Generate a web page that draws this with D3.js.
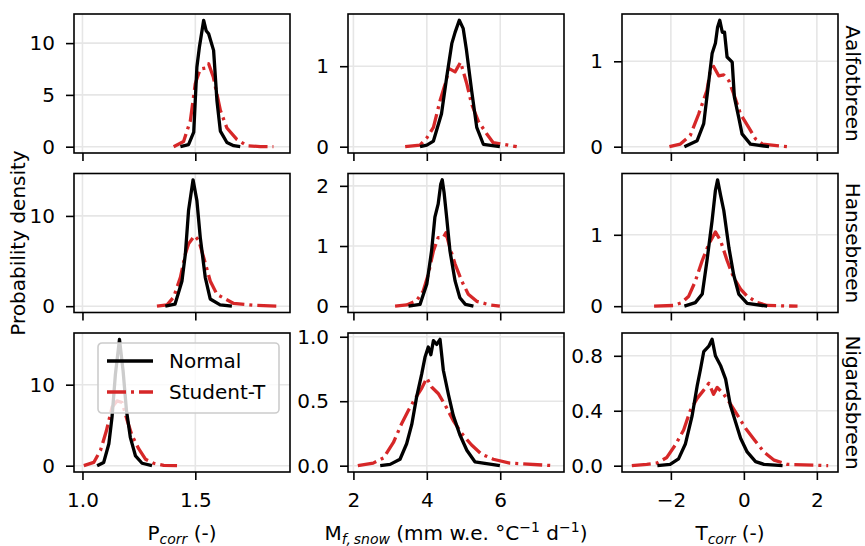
<!DOCTYPE html>
<html>
<head>
<meta charset="utf-8">
<script src="https://cdn.jsdelivr.net/npm/d3@7"></script>
<style>
  body { margin: 0; background: #fff; }
  svg text { font-family: "DejaVu Sans", sans-serif; fill: #000; }
</style>
</head>
<body>
<svg id="chart" width="865" height="546"></svg>
<script>
// glaciers (rows) and parameters (columns)
var glaciers = ['Aalfotbreen', 'Hansebreen', 'Nigardsbreen'];
var seriesNames = ['Normal', 'Student-T'];

// [value, density]
var aalPcorrNormal = [[1.434,0],[1.47,0.2],[1.493,1.4],[1.507,7.7],[1.518,9.6],[1.537,12.2],[1.548,11.2],[1.559,10.9],[1.581,9.3],[1.596,4.4],[1.611,1.5],[1.64,0.4],[1.67,0.1],[1.699,0]];
var aalPcorrStudent = [[1.404,0],[1.448,0.5],[1.478,2.5],[1.5,6.1],[1.522,7.5],[1.545,7.6],[1.559,8.0],[1.58,6.7],[1.611,3.5],[1.64,1.8],[1.684,0.7],[1.728,0.1],[1.788,0],[1.846,0]];
var aalMfNormal = [[3.815,0],[4.0,0.02],[4.18,0.07],[4.40,0.41],[4.54,0.86],[4.68,1.28],[4.77,1.42],[4.885,1.57],[4.99,1.47],[5.08,1.2],[5.22,0.7],[5.36,0.24],[5.54,0.03],[5.99,0]];
var aalMfStudent = [[3.41,0],[3.815,0.02],[4.0,0.11],[4.18,0.24],[4.36,0.57],[4.50,0.78],[4.61,0.97],[4.77,0.93],[4.92,1.05],[5.09,0.78],[5.22,0.53],[5.40,0.32],[5.63,0.16],[5.81,0.05],[6.45,0]];
var aalTcorrNormal = [[-1.63,0],[-1.28,0.07],[-1.10,0.27],[-0.96,0.77],[-0.87,1.09],[-0.78,1.21],[-0.72,1.40],[-0.66,1.48],[-0.59,1.34],[-0.53,1.34],[-0.46,1.05],[-0.32,0.99],[-0.26,0.58],[-0.14,0.34],[-0.05,0.15],[0.18,0.03],[0.69,0]];
var aalTcorrStudent = [[-2.04,0],[-1.74,0.03],[-1.47,0.13],[-1.24,0.38],[-1.01,0.66],[-0.92,0.89],[-0.83,0.94],[-0.69,0.83],[-0.55,0.84],[-0.41,0.77],[-0.28,0.62],[-0.09,0.38],[0.14,0.22],[0.32,0.09],[0.51,0.03],[1.19,0]];

var hanPcorrNormal = [[1.367,0],[1.41,0.22],[1.441,2.8],[1.456,5.8],[1.47,10.6],[1.49,14.0],[1.507,11.7],[1.522,7.6],[1.544,3.2],[1.566,0.8],[1.61,0.15],[1.662,0]];
var hanPcorrStudent = [[1.33,0],[1.375,0.15],[1.404,1.0],[1.434,3.2],[1.456,5.8],[1.47,6.9],[1.496,7.8],[1.515,7.3],[1.537,5.4],[1.566,2.8],[1.596,1.3],[1.633,0.8],[1.67,0.3],[1.758,0.1],[1.876,0]];
var hanMfNormal = [[3.50,0],[3.815,0.03],[4.0,0.37],[4.13,0.92],[4.22,1.48],[4.31,1.70],[4.38,2.03],[4.42,2.1],[4.47,1.89],[4.54,1.48],[4.63,0.92],[4.77,0.42],[4.90,0.14],[5.05,0.03],[5.27,0]];
var hanMfStudent = [[3.135,0],[3.45,0.02],[3.72,0.09],[3.90,0.25],[4.04,0.53],[4.18,0.92],[4.31,1.14],[4.45,1.14],[4.52,1.22],[4.63,0.97],[4.77,0.70],[4.95,0.42],[5.13,0.20],[5.36,0.08],[5.72,0.02],[5.99,0]];
var hanTcorrNormal = [[-1.63,0],[-1.33,0.05],[-1.14,0.17],[-1.01,0.64],[-0.87,1.20],[-0.78,1.62],[-0.72,1.77],[-0.64,1.56],[-0.55,1.34],[-0.41,0.82],[-0.28,0.44],[-0.14,0.17],[0.09,0.04],[0.64,0]];
var hanTcorrStudent = [[-2.46,0],[-1.93,0.01],[-1.70,0.05],[-1.51,0.14],[-1.33,0.35],[-1.14,0.64],[-0.96,0.87],[-0.78,1.04],[-0.64,0.92],[-0.46,0.64],[-0.28,0.40],[-0.09,0.24],[0.09,0.14],[0.37,0.05],[0.64,0.01],[1.47,0]];

var nigPcorrNormal = [[1.065,0],[1.094,0.4],[1.117,2.7],[1.131,6.0],[1.146,11.3],[1.164,15.6],[1.18,11.7],[1.195,6.8],[1.212,3.5],[1.235,1.2],[1.264,0.3],[1.308,0]];
var nigPcorrStudent = [[1.006,0],[1.05,0.4],[1.08,1.9],[1.106,4.3],[1.131,7.2],[1.153,8.0],[1.176,7.8],[1.198,5.6],[1.22,3.7],[1.249,2.1],[1.279,0.8],[1.316,0.3],[1.36,0.05],[1.419,0]];
var nigMfNormal = [[2.73,0],[3.0,0.01],[3.27,0.05],[3.45,0.17],[3.59,0.32],[3.72,0.53],[3.86,0.71],[3.95,0.84],[4.04,0.92],[4.11,0.86],[4.18,0.97],[4.27,0.94],[4.36,0.98],[4.45,0.74],[4.59,0.55],[4.72,0.39],[4.90,0.24],[5.09,0.12],[5.31,0.03],[5.99,0]];
var nigMfStudent = [[2.12,0],[2.54,0.02],[2.82,0.06],[3.09,0.18],[3.32,0.33],[3.50,0.43],[3.68,0.52],[3.86,0.60],[4.0,0.68],[4.13,0.61],[4.31,0.56],[4.50,0.47],[4.72,0.35],[4.95,0.25],[5.22,0.16],[5.49,0.09],[5.81,0.05],[6.26,0.02],[7.47,0]];
var nigTcorrNormal = [[-2.37,0],[-2.02,0.01],[-1.79,0.05],[-1.60,0.16],[-1.42,0.36],[-1.28,0.58],[-1.19,0.70],[-1.10,0.83],[-0.96,0.87],[-0.87,0.92],[-0.78,0.80],[-0.64,0.73],[-0.50,0.63],[-0.37,0.44],[-0.23,0.32],[-0.09,0.20],[0.09,0.10],[0.32,0.03],[0.55,0.01],[1.06,0]];
var nigTcorrStudent = [[-3.07,0],[-2.66,0.01],[-2.38,0.02],[-2.11,0.06],[-1.88,0.15],[-1.65,0.26],[-1.47,0.40],[-1.28,0.49],[-1.10,0.55],[-0.96,0.60],[-0.83,0.52],[-0.73,0.57],[-0.55,0.52],[-0.37,0.45],[-0.18,0.37],[0.05,0.27],[0.28,0.19],[0.55,0.10],[0.83,0.04],[1.19,0.01],[2.31,0]];

// tick values
var xTicksPcorr = [1.0, 1.5];
var xTicksMf = [2, 4, 6];
var xTicksTcorr = [-2, 0, 2];
var yTicksAal = [[0, 5, 10], [0, 1], [0, 1]];
var yTicksHan = [[0, 10], [0, 1, 2], [0, 1]];
var yTicksNig = [[0, 10], [0, 0.5, 1.0], [0, 0.4, 0.8]];

var panels = [
  [[aalPcorrNormal, aalPcorrStudent], [aalMfNormal, aalMfStudent], [aalTcorrNormal, aalTcorrStudent]],
  [[hanPcorrNormal, hanPcorrStudent], [hanMfNormal, hanMfStudent], [hanTcorrNormal, hanTcorrStudent]],
  [[nigPcorrNormal, nigPcorrStudent], [nigMfNormal, nigMfStudent], [nigTcorrNormal, nigTcorrStudent]]
];
var xTicks = [xTicksPcorr, xTicksMf, xTicksTcorr];
var yTicks = [yTicksAal, yTicksHan, yTicksNig];
var yFormats = [[d3.format('d'), d3.format('d'), d3.format('d')],
                [d3.format('d'), d3.format('d'), d3.format('d')],
                [d3.format('d'), d3.format('.1f'), d3.format('.1f')]];
var xFormats = [d3.format('.1f'), d3.format('d'), function(d) { return d3.format('d')(d).replace('-', '\u2212'); }];

var svg = d3.select('#chart');

// layout
var colLeft = [74, 348, 622];
var rowTop = [14, 173.5, 333];
var pw = 216, ph = 139;
var colors = {Normal: '#000000', 'Student-T': '#d62728'};
var dash = '19,5,3,5';
var lw = 3.3;

// x scales shared by column, 5% margins like matplotlib
var xScales = [0, 1, 2].map(function(c) {
  var all = [];
  panels.forEach(function(row) { row[c].forEach(function(s) { all = all.concat(s.map(function(d) { return d[0]; })); }); });
  var ext = d3.extent(all), m = (ext[1] - ext[0]) * 0.05;
  return d3.scaleLinear().domain([ext[0] - m, ext[1] + m]).range([0, pw]);
});

panels.forEach(function(row, r) {
  row.forEach(function(series, c) {
    var g = svg.append('g').attr('transform', 'translate(' + colLeft[c] + ',' + rowTop[r] + ')');
    var x = xScales[c];
    var ymax = d3.max(series, function(s) { return d3.max(s, function(d) { return d[1]; }); });
    var y = d3.scaleLinear().domain([-0.05 * ymax, 1.05 * ymax]).range([ph, 0]);

    // grid
    g.selectAll('.gx').data(xTicks[c]).enter().append('line')
      .attr('x1', x).attr('x2', x).attr('y1', 0).attr('y2', ph)
      .attr('stroke', '#e6e6e6').attr('stroke-width', 1.6);
    g.selectAll('.gy').data(yTicks[r][c]).enter().append('line')
      .attr('y1', y).attr('y2', y).attr('x1', 0).attr('x2', pw)
      .attr('stroke', '#e6e6e6').attr('stroke-width', 1.6);

    var line = d3.line().x(function(d) { return x(d[0]); }).y(function(d) { return y(d[1]); });
    // student-t first, normal on top
    [1, 0].forEach(function(k) {
      g.append('path').datum(series[k])
        .attr('d', line)
        .attr('fill', 'none')
        .attr('stroke', colors[seriesNames[k]])
        .attr('stroke-width', lw)
        .attr('stroke-linejoin', 'round')
        .attr('stroke-dasharray', k == 1 ? dash : null);
    });

    // axes
    var yAxis = d3.axisLeft(y).tickValues(yTicks[r][c]).tickFormat(yFormats[r][c]).tickSize(8).tickPadding(11);
    var ya = g.append('g').call(yAxis);
    var xAxis = d3.axisBottom(x).tickValues(xTicks[c]).tickFormat(r == 2 ? xFormats[c] : '').tickSize(8).tickPadding(13);
    var xa = g.append('g').attr('transform', 'translate(0,' + ph + ')').call(xAxis);
    [ya, xa].forEach(function(a) {
      a.select('.domain').remove();
      a.selectAll('line').attr('stroke', '#000').attr('stroke-width', 1.6);
      a.selectAll('text').attr('font-size', 20).attr('font-family', '"DejaVu Sans", sans-serif').attr('fill', '#000');
    });

    g.append('rect').attr('width', pw).attr('height', ph)
      .attr('fill', 'none').attr('stroke', '#000').attr('stroke-width', 1.6);

    // row titles on the right
    if (c == 2) {
      svg.append('text')
        .attr('transform', 'translate(846,' + (rowTop[r] + ph / 2) + ') rotate(90)')
        .attr('text-anchor', 'middle')
        .attr('font-size', 20)
        .text(glaciers[r]);
    }

    // legend in the bottom-left panel
    if (r == 2 && c == 0) {
      var lg = g.append('g').attr('transform', 'translate(24,10)');
      lg.append('rect').attr('width', 181).attr('height', 70).attr('rx', 4)
        .attr('fill', '#fff').attr('fill-opacity', 0.8)
        .attr('stroke', '#cccccc').attr('stroke-width', 1.6);
      seriesNames.forEach(function(name, i) {
        var ly = 18 + i * 31;
        lg.append('line').attr('x1', 9).attr('x2', 55).attr('y1', ly).attr('y2', ly)
          .attr('stroke', colors[name]).attr('stroke-width', lw)
          .attr('stroke-dasharray', i == 1 ? dash : null);
        lg.append('text').attr('x', 71).attr('y', ly + 7).attr('font-size', 20).text(name);
      });
    }
  });
});

// y label
svg.append('text')
  .attr('transform', 'translate(25,243) rotate(-90)')
  .attr('text-anchor', 'middle')
  .attr('font-size', 20)
  .text('Probability density');

// x labels with sub/superscripts
var labY = 540;
var l1 = svg.append('text').attr('x', colLeft[0] + pw / 2).attr('y', labY).attr('text-anchor', 'middle').attr('font-size', 20);
l1.append('tspan').text('P');
l1.append('tspan').attr('font-size', 14).attr('font-style', 'italic').attr('dy', 4).text('corr');
l1.append('tspan').attr('dy', -4).text(' (-)');

var l2 = svg.append('text').attr('x', colLeft[1] + pw / 2).attr('y', labY).attr('text-anchor', 'middle').attr('font-size', 20);
l2.append('tspan').text('M');
l2.append('tspan').attr('font-size', 14).attr('font-style', 'italic').attr('dy', 4).text('f,\u2009snow');
l2.append('tspan').attr('dy', -4).text(' (mm w.e. \u00b0C');
l2.append('tspan').attr('font-size', 14).attr('dy', -8).text('\u22121');
l2.append('tspan').attr('dy', 8).text(' d');
l2.append('tspan').attr('font-size', 14).attr('dy', -8).text('\u22121');
l2.append('tspan').attr('dy', 8).text(')');

var l3 = svg.append('text').attr('x', colLeft[2] + pw / 2).attr('y', labY).attr('text-anchor', 'middle').attr('font-size', 20);
l3.append('tspan').text('T');
l3.append('tspan').attr('font-size', 14).attr('font-style', 'italic').attr('dy', 4).text('corr');
l3.append('tspan').attr('dy', -4).text(' (-)');
</script>
</body>
</html>
